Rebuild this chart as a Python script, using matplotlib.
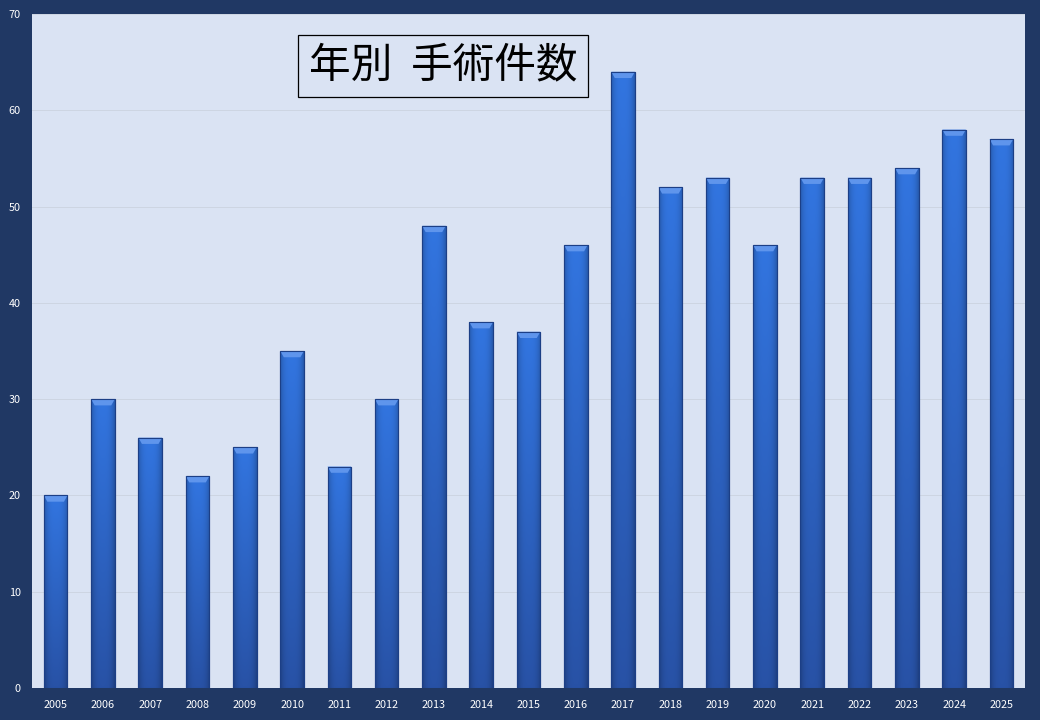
import matplotlib.pyplot as plt
import numpy as np
from matplotlib.patches import Polygon

plt.rcParams['font.family'] = ['Noto Sans CJK JP', 'DejaVu Sans']

# data
years = ['2005', '2006', '2007', '2008', '2009', '2010', '2011', '2012', '2013',
         '2014', '2015', '2016', '2017', '2018', '2019', '2020', '2021', '2022',
         '2023', '2024', '2025']
counts = [20, 30, 26, 22, 25, 35, 23, 30, 48, 38, 37, 46, 64, 52, 53, 46,
          53, 53, 54, 58, 57]
title = '年別  手術件数'

colors = {
    'frame': '#203864',
    'plot': '#dae3f3',
    'grid': '#cdd5e2',
    'bar_top': '#3275e0',
    'bar_bottom': '#2852a6',
    'edge': '#1c3f86',
}

fig = plt.figure(figsize=(10.4, 7.2), dpi=100, facecolor=colors['frame'])
ax = fig.add_axes([32 / 1040, 32 / 720, 993 / 1040, 674 / 720])
ax.set_facecolor(colors['plot'])

x = np.arange(len(years))
bars = ax.bar(x, counts, width=0.5, color=colors['bar_top'],
              edgecolor=colors['edge'], linewidth=0.8, zorder=2)

ax.set_xlim(-0.5, len(years) - 0.5)
ax.set_ylim(0, 70)
ax.set_yticks(np.arange(0, 71, 10))
ax.set_xticks(x)
ax.set_xticklabels(years)
ax.tick_params(colors='white', labelsize=7.8, length=0)
ax.tick_params(axis='x', pad=8.5)
ax.tick_params(axis='y', pad=8)
ax.grid(axis='y', color=colors['grid'], linewidth=0.7, zorder=0)
for s in ax.spines.values():
    s.set_visible(False)

# gradient fill + bevel for each bar
top = np.array([0x32, 0x75, 0xe0]) / 255
bot = np.array([0x28, 0x52, 0xa6]) / 255
ny, nx = 64, 32
t = np.linspace(0, 1, ny)[:, None, None]          # 0 = top, 1 = bottom
vert = top * (1 - t) + bot * t
u = np.linspace(-1, 1, nx)[None, :, None]
shade = 1 - 0.22 * np.abs(u) ** 3
grad = np.clip(vert * shade, 0, 1)

for b in bars:
    x0, y0 = b.get_x(), b.get_y()
    w, h = b.get_width(), b.get_height()
    im = ax.imshow(grad, extent=(x0, x0 + w, y0, y0 + h), aspect='auto',
                   zorder=2.1, interpolation='bilinear')
    im.set_clip_path(b)
    # top bevel
    dx = w * 0.15
    dy = 0.65
    bevel = Polygon([(x0, y0 + h), (x0 + w, y0 + h),
                     (x0 + w - dx, y0 + h - dy), (x0 + dx, y0 + h - dy)],
                    closed=True, facecolor='#5f95ec', edgecolor='none',
                    zorder=2.2)
    ax.add_patch(bevel)
    ax.add_patch(Polygon([(x0, y0 + h), (x0 + w, y0 + h), (x0 + w, y0),
                          (x0, y0)], closed=True, fill=False,
                         edgecolor=colors['edge'], linewidth=0.8, zorder=2.3))

ax.text(0.414, 0.923, title, transform=ax.transAxes, ha='center', va='center',
        fontsize=30, color='black', zorder=5,
        bbox=dict(boxstyle='square,pad=0.25', facecolor=colors['plot'],
                  edgecolor='black', linewidth=0.9))

fig.savefig('out.png', dpi=100, facecolor=colors['frame'])
